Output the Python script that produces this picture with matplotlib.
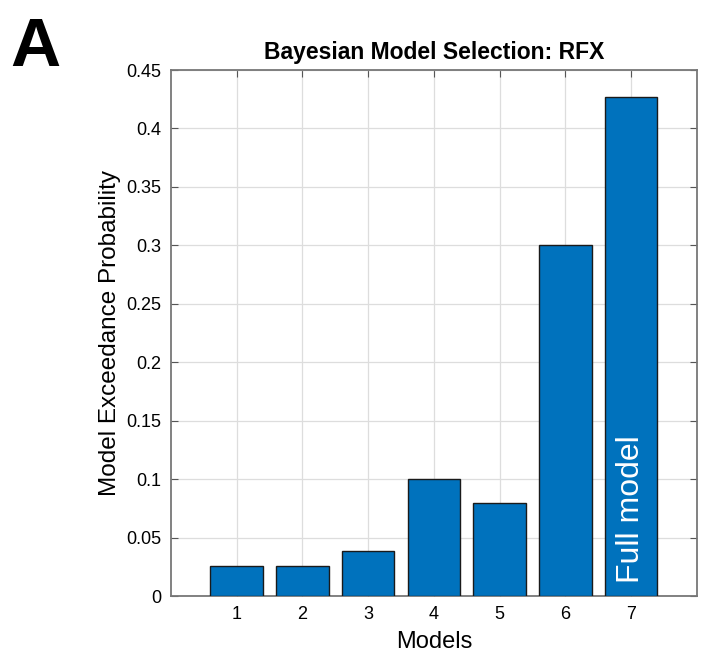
import numpy as np
import matplotlib.pyplot as plt

plt.rcParams['font.family'] = ['Liberation Sans Narrow', 'Liberation Sans', 'DejaVu Sans']

models = [1, 2, 3, 4, 5, 6, 7]
exceedance = [0.0257, 0.0257, 0.0385, 0.1005, 0.0795, 0.300, 0.427]
yticks = [0, 0.05, 0.1, 0.15, 0.2, 0.25, 0.3, 0.35, 0.4, 0.45]
ytick_labels = ['0', '0.05', '0.1', '0.15', '0.2', '0.25', '0.3', '0.35', '0.4', '0.45']

fig = plt.figure(figsize=(7.01, 6.58), dpi=100)
ax = fig.add_axes([0.244, 0.0942, 0.750, 0.7994])

# bars in matlab default blue
ax.bar(models, exceedance, width=0.8, color='#0072BD', edgecolor='#1a1a1a',
       linewidth=1.0, zorder=3)

ax.set_xlim(0, 8)
ax.set_ylim(0, 0.45)
ax.set_xticks(models)
ax.set_yticks(yticks)
ax.set_yticklabels(ytick_labels)
ax.tick_params(axis='both', direction='in', labelsize=13, color='#555555',
               top=True, right=True, length=5, pad=7)
ax.grid(True, color='#dddddd', linewidth=0.9, zorder=0)
ax.set_axisbelow(True)
for s in ax.spines.values():
    s.set_color('#777777')
    s.set_linewidth(1.3)

ax.set_title('Bayesian Model Selection: RFX', fontsize=16.5, fontweight='bold', pad=8)
ax.set_xlabel('Models', fontsize=17, labelpad=6)
ax.set_ylabel('Model Exceedance Probability', fontsize=17.5, labelpad=4)

ax.text(7, 0.011, 'Full model', rotation=90, color='white', ha='center',
        va='bottom', fontsize=23, family=['Liberation Sans', 'DejaVu Sans'], zorder=4)

fig.text(0.014, 0.975, 'A', fontsize=50, fontweight='bold', va='top', ha='left',
         family=['Liberation Sans', 'DejaVu Sans'])

fig.savefig('out.png', dpi=100)
